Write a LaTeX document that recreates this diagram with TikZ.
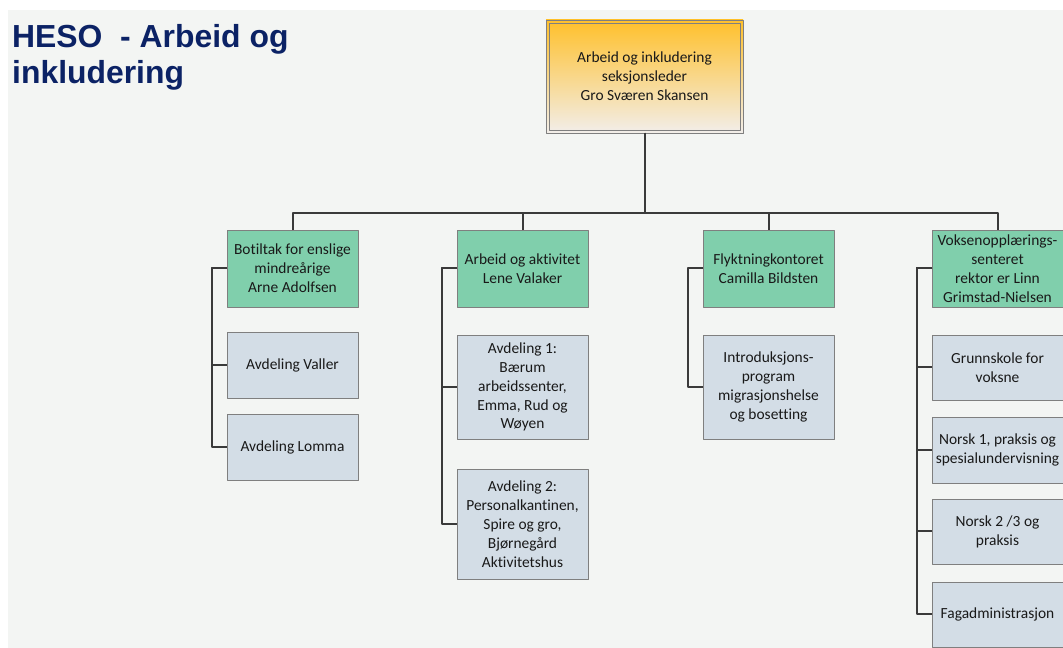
\documentclass[tikz,border=0pt]{standalone}
\usepackage{fontspec}
\setmainfont{Carlito}[Ligatures=NoCommon]
\newfontfamily\headfont{Liberation Sans}
\usetikzlibrary{shadows}
\definecolor{headblue}{HTML}{0B2265}
\definecolor{bggray}{HTML}{F3F5F3}
\definecolor{leadtop}{HTML}{FFC02A}
\definecolor{leadbot}{HTML}{F2EEEA}
\definecolor{unitgreen}{HTML}{80CFAC}
\definecolor{subblue}{HTML}{D3DDE6}
\definecolor{boxline}{HTML}{7F7F7F}
\definecolor{linkline}{HTML}{3A3A3A}
\tikzset{
  box/.style={draw=boxline,line width=0.8bp,align=center,inner sep=2bp,outer sep=0pt,
    minimum width=131bp,text=black!90,font=\fontsize{15.5}{19}\selectfont,
    drop shadow={shadow xshift=1.2bp,shadow yshift=-1.2bp,opacity=0.3}},
  lead/.style={box,minimum width=197bp,minimum height=113bp,top color=leadtop,bottom color=leadbot},
  unit/.style={box,fill=unitgreen,minimum height=77bp},
  sub/.style={box,fill=subblue},
  link/.style={draw=linkline,line width=2bp},
}
\begin{document}
\begin{tikzpicture}[>=latex,line join=bevel,]
    \useasboundingbox (0bp,0bp) rectangle (1063bp,648bp);
    \fill [white] (0bp,0bp) rectangle (1063bp,648bp);
    \fill [bggray] (8bp,0bp) rectangle (1063bp,638bp);
    %%
    \node (title) at (12bp,624bp) [anchor=north west,align=left,inner sep=0pt,text=headblue,font=\headfont\bfseries\fontsize{32}{36}\selectfont] {HESO\ \ - Arbeid og\\inkludering};
    \node (top) at (644.5bp,571.5bp) [lead] {Arbeid og inkludering\\seksjonsleder\\Gro Sværen Skansen};
    \draw [boxline,line width=0.8bp] ([xshift=3bp,yshift=-3bp]top.north west) rectangle ([xshift=-3bp,yshift=3bp]top.south east);
    %%
    \node (g1) at (292.5bp,379.5bp) [unit] {Botiltak for enslige\\mindreårige\\Arne Adolfsen};
    \node (g2) at (522.5bp,379.5bp) [unit] {Arbeid og aktivitet\\Lene Valaker};
    \node (g3) at (768.5bp,379.5bp) [unit] {Flyktningkontoret\\Camilla Bildsten};
    \node (g4) at (997.5bp,379.5bp) [unit] {Voksenopplærings-\\senteret\\rektor er Linn\\Grimstad-Nielsen};
    %%
    \node (c1a) at (292.5bp,283bp) [sub,minimum height=66bp] {Avdeling Valler};
    \node (c1b) at (292.5bp,201bp) [sub,minimum height=66bp] {Avdeling Lomma};
    \node (c2a) at (522.5bp,261bp) [sub,minimum height=104bp] {Avdeling 1:\\Bærum\\arbeidssenter,\\Emma, Rud og\\Wøyen};
    \node (c2b) at (522.5bp,124bp) [sub,minimum height=110bp] {Avdeling 2:\\Personalkantinen,\\Spire og gro,\\Bjørnegård\\Aktivitetshus};
    \node (c3a) at (768.5bp,261bp) [sub,minimum height=104bp] {Introduksjons-\\program\\migrasjonshelse\\og bosetting};
    \node (c4a) at (997.5bp,280.5bp) [sub,minimum height=65bp] {Grunnskole for\\voksne};
    \node (c4b) at (997.5bp,198bp) [sub,minimum height=66bp] {Norsk 1, praksis og\\spesialundervisning};
    \node (c4c) at (997.5bp,116.5bp) [sub,minimum height=65bp] {Norsk 2 /3 og\\praksis};
    \node (c4d) at (997.5bp,33.5bp) [sub,minimum height=65bp] {Fagadministrasjon};
    %%
    \draw [link] (top.south) -- ++(0bp,-80bp) -| (g1.north);
    \draw [link] (top.south) -- ++(0bp,-80bp) -| (g2.north);
    \draw [link] (top.south) -- ++(0bp,-80bp) -| (g3.north);
    \draw [link] (top.south) -- ++(0bp,-80bp) -| (g4.north);
    %
    \draw [link] (g1.west) -- ++(-15.5bp,0bp) |- (c1a.west);
    \draw [link] (g1.west) -- ++(-15.5bp,0bp) |- (c1b.west);
    \draw [link] (g2.west) -- ++(-15.5bp,0bp) |- (c2a.west);
    \draw [link] (g2.west) -- ++(-15.5bp,0bp) |- (c2b.west);
    \draw [link] (g3.west) -- ++(-15.5bp,0bp) |- (c3a.west);
    \draw [link] (g4.west) -- ++(-15.5bp,0bp) |- (c4a.west);
    \draw [link] (g4.west) -- ++(-15.5bp,0bp) |- (c4b.west);
    \draw [link] (g4.west) -- ++(-15.5bp,0bp) |- (c4c.west);
    \draw [link] (g4.west) -- ++(-15.5bp,0bp) |- (c4d.west);
    %
\end{tikzpicture}
\end{document}
